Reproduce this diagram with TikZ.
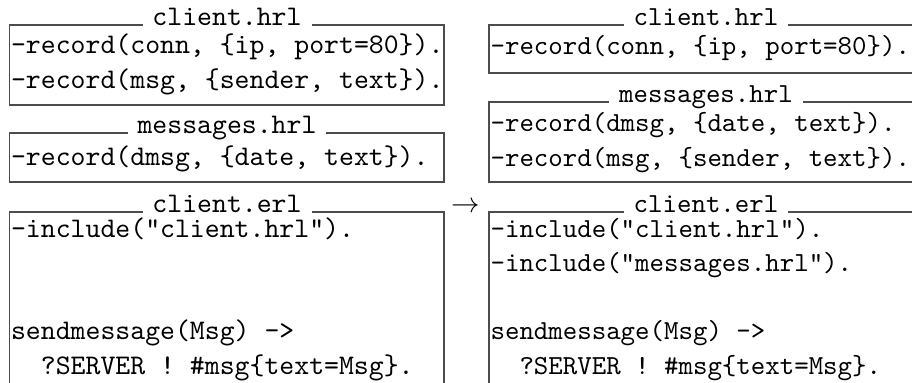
\documentclass[tikz,border=0pt]{standalone}
\usepackage{tikz}
\begin{document}
\begin{tikzpicture}[x=0.3521pt, y=-0.3521pt,
  frame/.style={draw=black!70, line width=0.4pt},
  title/.style={fill=white, font=\ttfamily, anchor=base, inner xsep=3.5pt, inner ysep=1pt},
  code/.style={font=\ttfamily, anchor=base west, align=left, inner sep=0pt},
  rcol/.style={font=\fontsize{9.7pt}{12pt}\selectfont\ttfamily}]
\useasboundingbox (0,0) rectangle (912,382);
\clip (0,0) rectangle (912,382);
\draw[frame] (9.5,25) rectangle (444,105);
\node[title] (t1) at (227,25.5) {client.hrl};
\node[code] (c1) at (10.5,88) {-record(conn, \{ip, port=80\}).\\-record(msg, \{sender, text\}).};
\draw[frame] (9.5,133) rectangle (444,182);
\node[title] (t2) at (227,133.5) {messages.hrl};
\node[code] (c2) at (10.5,165) {-record(dmsg, \{date, text\}).};
\draw[frame] (9.5,400) |- (444,212) -- (444,400);
\node[title] (t3) at (227,212.5) {client.erl};
\node[code] (c3) at (10.5,374) {-include("client.hrl").\\ \\ \\sendmessage(Msg) ->\\~~?SERVER ! \#msg\{text=Msg\}.};
\node[anchor=base] (arr) at (466,212) {$\rightarrow$};
\draw[frame] (489,25) rectangle (924,73);
\node[title, rcol] (t4) at (706,25.5) {client.hrl};
\node[code, rcol] (c4) at (490,54) {-record(conn, \{ip, port=80\}).};
\draw[frame] (489,102) rectangle (924,182);
\node[title, rcol] (t5) at (706,102.5) {messages.hrl};
\node[code, rcol] (c5) at (490,166) {-record(dmsg, \{date, text\}).\\-record(msg, \{sender, text\}).};
\draw[frame] (489,400) |- (924,212) -- (924,400);
\node[title, rcol] (t6) at (706,212.5) {client.erl};
\node[code, rcol] (c6) at (490,374) {-include("client.hrl").\\-include("messages.hrl").\\ \\sendmessage(Msg) ->\\~~?SERVER ! \#msg\{text=Msg\}.};
\end{tikzpicture}
\end{document}
